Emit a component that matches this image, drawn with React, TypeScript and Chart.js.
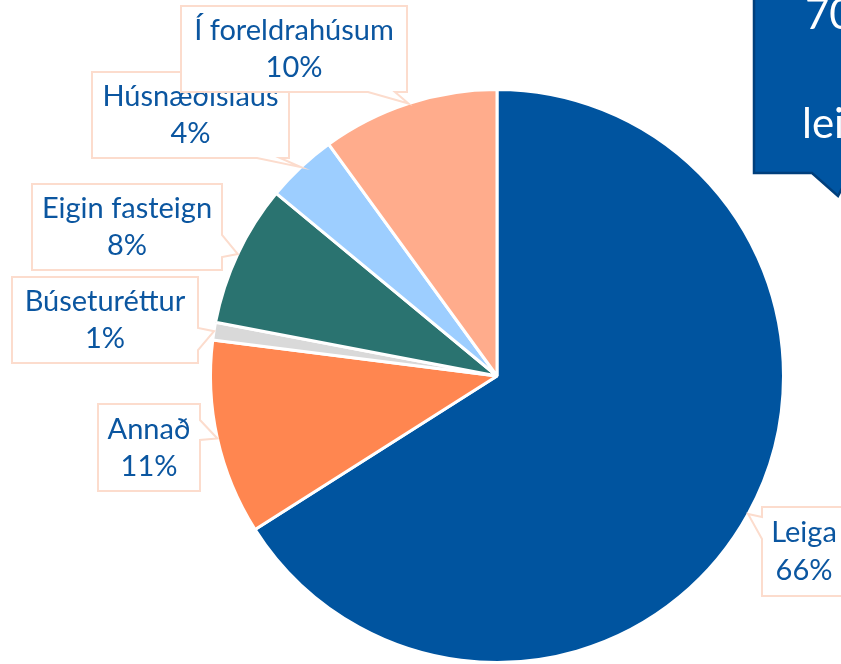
import React, { useEffect, useRef } from "react";
import { Chart, registerables } from "chart.js";

Chart.register(...registerables);

const categories = ["Leiga", "Annað", "Búseturéttur", "Eigin fasteign", "Húsnæðislaus", "Í foreldrahúsum"];
const values = [66, 11, 1, 8, 4, 10];
const percentLabels = ["66%", "11%", "1%", "8%", "4%", "10%"];
const sliceColors = ["#00549F", "#FF8650", "#D9D9D9", "#2A7370", "#9DCEFF", "#FFAC8C"];
const calloutLines = ["70% eru", "á", "leigumarkaði"];

// layout of the label boxes (position / size / wedge side)
const boxLayout = [
  { x: 762, y: 507, w: 84, h: 89, side: "left", b1: 10, b2: 32 },
  { x: 98, y: 404, w: 102, h: 87, side: "right", b1: 16, b2: 36 },
  { x: 12, y: 277, w: 186, h: 86, side: "right", b1: 51, b2: 73 },
  { x: 32, y: 184, w: 190, h: 86, side: "right", b1: 51, b2: 73 },
  { x: 92, y: 72, w: 197, h: 86, side: "bottom", b1: 165, b2: 188 },
  { x: 181, y: 6, w: 226, h: 86, side: "bottom", b1: 187, b2: 214 },
];
const drawOrder = [0, 1, 2, 3, 4, 5];

const FONT = "Lato, 'Open Sans', sans-serif";

const calloutPlugin = {
  id: "callouts",
  afterDatasetsDraw(chart: any) {
    const ctx = chart.ctx;
    const meta = chart.getDatasetMeta(0);
    ctx.save();
    for (const i of drawOrder) {
      const arc: any = meta.data[i];
      const b = boxLayout[i];
      const mid = (arc.startAngle + arc.endAngle) / 2;
      const tx = arc.x + Math.cos(mid) * arc.outerRadius;
      const ty = arc.y + Math.sin(mid) * arc.outerRadius;
      ctx.beginPath();
      if (b.side === "bottom") {
        ctx.moveTo(b.x, b.y);
        ctx.lineTo(b.x + b.w, b.y);
        ctx.lineTo(b.x + b.w, b.y + b.h);
        ctx.lineTo(b.x + b.b2, b.y + b.h);
        ctx.lineTo(tx, ty);
        ctx.lineTo(b.x + b.b1, b.y + b.h);
        ctx.lineTo(b.x, b.y + b.h);
      } else if (b.side === "right") {
        ctx.moveTo(b.x, b.y);
        ctx.lineTo(b.x + b.w, b.y);
        ctx.lineTo(b.x + b.w, b.y + b.b1);
        ctx.lineTo(tx, ty);
        ctx.lineTo(b.x + b.w, b.y + b.b2);
        ctx.lineTo(b.x + b.w, b.y + b.h);
        ctx.lineTo(b.x, b.y + b.h);
      } else {
        ctx.moveTo(b.x, b.y);
        ctx.lineTo(b.x + b.w, b.y);
        ctx.lineTo(b.x + b.w, b.y + b.h);
        ctx.lineTo(b.x, b.y + b.h);
        ctx.lineTo(b.x, b.y + b.b2);
        ctx.lineTo(tx, ty);
        ctx.lineTo(b.x, b.y + b.b1);
      }
      ctx.closePath();
      ctx.fillStyle = "#FFFFFF";
      ctx.fill();
      ctx.strokeStyle = "#FCDCCD";
      ctx.lineWidth = 2;
      ctx.stroke();
      ctx.fillStyle = "#0B56A0";
      ctx.font = `29px ${FONT}`;
      ctx.textAlign = "center";
      ctx.textBaseline = "middle";
      const cx = b.x + b.w / 2;
      ctx.fillText(categories[i], cx, b.y + b.h * 0.29);
      ctx.fillText(percentLabels[i], cx, b.y + b.h * 0.72);
    }

    // dark blue callout at the top right
    ctx.beginPath();
    ctx.moveTo(754, -10);
    ctx.lineTo(900, -10);
    ctx.lineTo(900, 173);
    ctx.lineTo(850, 173);
    ctx.lineTo(838, 196);
    ctx.lineTo(812, 173);
    ctx.lineTo(754, 173);
    ctx.closePath();
    ctx.fillStyle = "#0055A2";
    ctx.fill();
    ctx.strokeStyle = "#003F7C";
    ctx.lineWidth = 2.5;
    ctx.stroke();
    ctx.fillStyle = "#FFFFFF";
    ctx.font = `42px ${FONT}`;
    ctx.textAlign = "left";
    ctx.textBaseline = "alphabetic";
    ctx.fillText(calloutLines[0], 805, 29);
    ctx.fillText(calloutLines[1], 870, 83);
    ctx.fillText(calloutLines[2], 802, 138);
    ctx.restore();
  },
};

export default function App() {
  const ref = useRef<HTMLCanvasElement>(null);
  useEffect(() => {
    const chart = new Chart(ref.current!, {
      type: "pie",
      data: {
        labels: categories,
        datasets: [
          {
            data: values,
            backgroundColor: sliceColors,
            borderColor: "#FFFFFF",
            borderWidth: 3,
          },
        ],
      },
      options: {
        responsive: false,
        animation: false,
        layout: { padding: { left: 207, right: 54, top: 88, bottom: -4 } },
        plugins: { legend: { display: false }, tooltip: { enabled: false } },
      },
      plugins: [calloutPlugin],
    });
    return () => chart.destroy();
  }, []);
  return (
    <div style={{ position: "fixed", left: 0, top: 0, width: 841, height: 664, background: "#fff" }}>
      <canvas ref={ref} width={841} height={664} />
    </div>
  );
}
